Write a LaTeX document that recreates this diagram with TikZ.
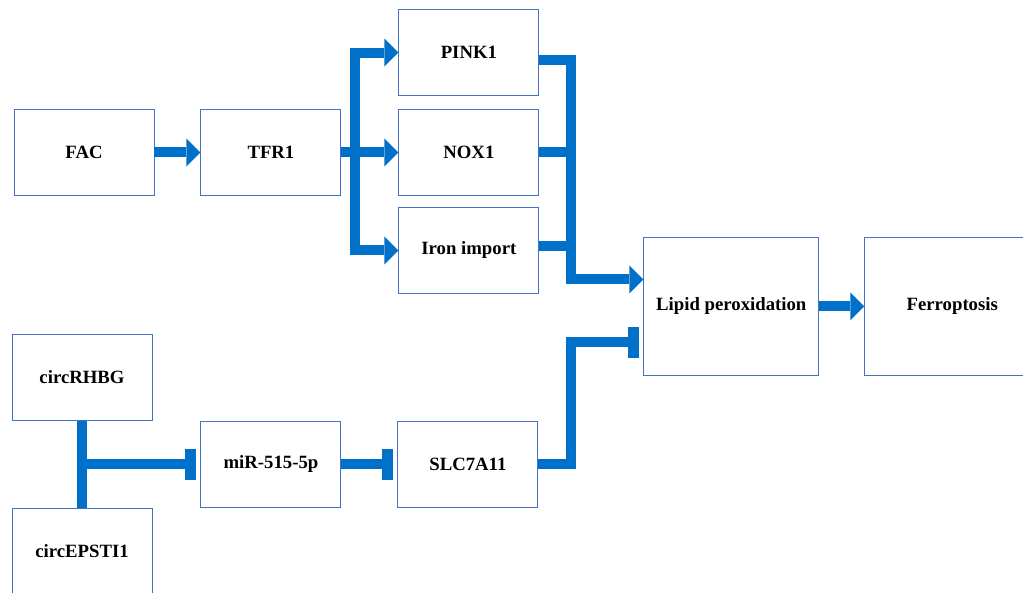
\documentclass[tikz,border=0pt]{standalone}
\usepackage{fontspec}
\setmainfont{Liberation Serif}
\usetikzlibrary{arrows.meta, positioning, calc}
\usepackage{xcolor}
\definecolor{boxline}{RGB}{68, 114, 196}
\definecolor{flow}{RGB}{0, 112, 200}
\tikzstyle{factor}  = [rectangle, minimum width=4.2cm, minimum height=2.58cm,
                       text centered, draw=boxline, line width=0.8pt,
                       font=\fontsize{16}{19}\selectfont\bfseries]
\tikzstyle{outcome} = [rectangle, minimum width=5.25cm, minimum height=4.14cm,
                       text centered, draw=boxline, line width=0.8pt,
                       font=\fontsize{16}{19}\selectfont\bfseries]
\tikzstyle{link}    = [draw=flow, line width=0.3cm]
\tikzstyle{arrow}   = [link, -{Triangle[length=0.42cm, width=0.84cm, line width=0pt]}]
\tikzstyle{inhibit} = [link, -{Rectangle[length=0.33cm, width=0.93cm, line width=0pt]},
                       shorten >=0.12cm]

\begin{document}
\begin{tikzpicture}
  \useasboundingbox (0,0) rectangle (30.69,-17.79);

  % Iron uptake branch
  \node (fac)   [factor] at (2.52,-4.575) {FAC};
  \node (tfr)   [factor, right=1.38cm of fac]  {TFR1};
  \node (nox)   [factor, right=1.71cm of tfr]  {NOX1};
  \node (pink)  [factor, above=0.39cm of nox]  {PINK1};
  \node (iron)  [factor, below=0.33cm of nox]  {Iron import};

  \node (lipid) [outcome, right=3.12cm of iron, yshift=-1.68cm] {Lipid peroxidation};
  \node (ferro) [outcome, right=1.35cm of lipid] {Ferroptosis};

  % circRNA / miRNA axis
  \node (mir)   [factor, below=6.75cm of tfr]  {miR-515-5p};
  \node (slc)   [factor, right=1.68cm of mir]  {SLC7A11};
  \node (rhbg)  [factor, above left=0cm and 1.44cm of mir] {circRHBG};
  \node (epsti) [factor, below left=0cm and 1.44cm of mir] {circEPSTI1};

  \coordinate (split) at ($(tfr.east)+(0.42cm,0)$);
  \coordinate (merge) at ($(lipid.west)+(-2.16cm,0.81cm)$);
  \coordinate (block) at ($(lipid.west)+(-2.16cm,-1.08cm)$);

  \draw [arrow] (fac) -- (tfr);
  \draw [link]  (tfr) -- (split);
  \draw [arrow] (split) |- (pink);
  \draw [arrow] (split) |- (nox);
  \draw [arrow] (split) |- (iron);

  \draw [arrow] ([yshift=-0.21cm]pink.east) -| (merge) -- (merge -| lipid.west);
  \draw [link]  (nox.east) -- (nox.east -| merge);
  \draw [link]  ([yshift=0.12cm]iron.east) -- ([yshift=0.12cm]iron.east -| merge);
  \draw [arrow] (lipid) -- (ferro);

  \draw [link]    (rhbg) -- (epsti);
  \draw [inhibit] (rhbg.south |- mir.west) -- (mir);
  \draw [inhibit] (mir) -- (slc);
  \draw [inhibit] (slc) -| (block) -- (block -| lipid.west);
\end{tikzpicture}
\end{document}
